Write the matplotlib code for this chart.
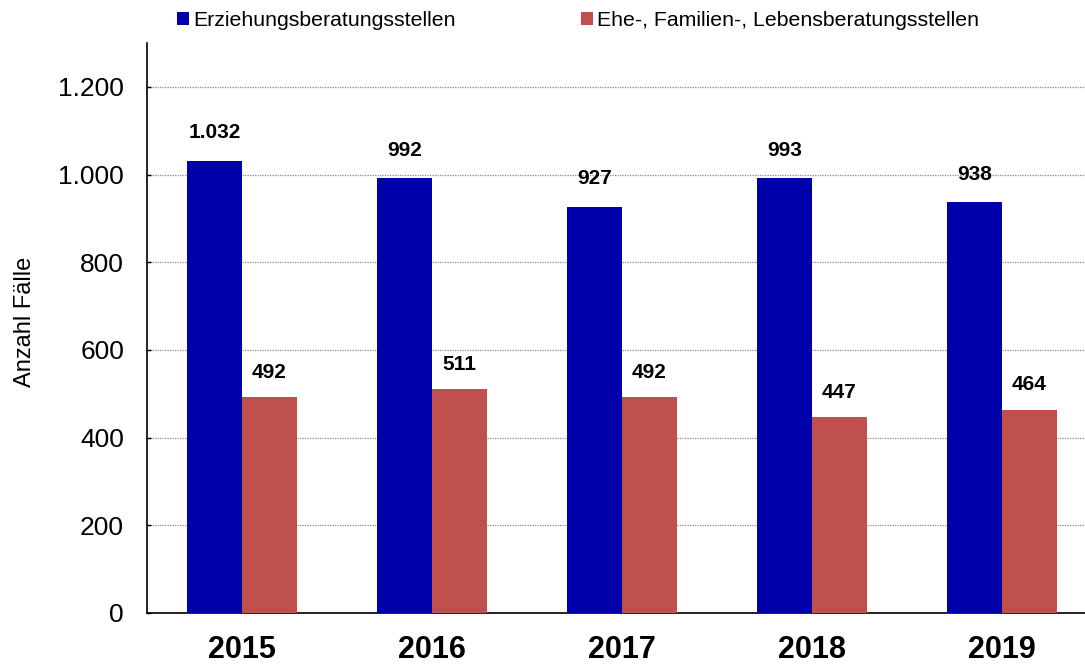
import matplotlib
matplotlib.use("Agg")
import matplotlib.pyplot as plt
from matplotlib.patches import Patch
import numpy as np

plt.rcParams['font.family'] = ['Liberation Sans', 'DejaVu Sans']

years = ["2015", "2016", "2017", "2018", "2019"]
erziehung = [1032, 992, 927, 993, 938]
ehe = [492, 511, 492, 447, 464]
labels_erz = ["1.032", "992", "927", "993", "938"]
labels_ehe = ["492", "511", "492", "447", "464"]
series_names = ["Erziehungsberatungsstellen", "Ehe-, Familien-, Lebensberatungsstellen"]
yticks = [0, 200, 400, 600, 800, 1000, 1200]
ytick_labels = ["0", "200", "400", "600", "800", "1.000", "1.200"]

blue = "#0000AA"
red = "#C0504D"

fig = plt.figure(figsize=(10.85, 6.65), dpi=100)
ax = fig.add_axes([147/1085, 1 - 613/665, (1097-147)/1085, (613-43)/665])

x = np.arange(len(years))
w = 0.287
b1 = ax.bar(x - w/2, erziehung, width=w, color=blue, zorder=3)
b2 = ax.bar(x + w/2, ehe, width=w, color=red, zorder=3)

for rect, lab in zip(b1, labels_erz):
    ax.annotate(lab, (rect.get_x() + rect.get_width()/2, rect.get_height()),
                xytext=(0, 13), textcoords="offset points", ha="center", va="bottom",
                fontsize=15, fontweight="bold")
for rect, lab in zip(b2, labels_ehe):
    ax.annotate(lab, (rect.get_x() + rect.get_width()/2, rect.get_height()),
                xytext=(0, 11), textcoords="offset points", ha="center", va="bottom",
                fontsize=15, fontweight="bold")

ax.set_xlim(-0.5, 4.5)
ax.set_ylim(0, 1300)
ax.set_yticks(yticks)
ax.set_yticklabels(ytick_labels, fontsize=19)
ax.set_xticks(x)
ax.set_xticklabels(years, fontsize=22, fontweight="bold")
ax.tick_params(axis="x", length=0, pad=16)
ax.tick_params(axis="y", direction="in", length=3, width=1, pad=16.5)
ax.yaxis.grid(True, linestyle=(0, (1, 1)), color="#888888", linewidth=0.9, zorder=0)
ax.set_axisbelow(True)
for s in ["top", "right"]:
    ax.spines[s].set_visible(False)
for s in ["left", "bottom"]:
    ax.spines[s].set_linewidth(1.2)
    ax.spines[s].set_color("black")

ax.set_ylabel("Anzahl Fälle", fontsize=17)
ax.yaxis.set_label_coords(-0.117, 0.51)

handles = [Patch(facecolor=blue), Patch(facecolor=red)]
fig.legend(handles, series_names, loc="upper left", bbox_to_anchor=(158/1085, 1.012),
           ncol=2, frameon=False, fontsize=15.3, handlelength=0.55, handleheight=0.55,
           handletextpad=0.2, columnspacing=5.9)

fig.savefig("out.png", dpi=100)
